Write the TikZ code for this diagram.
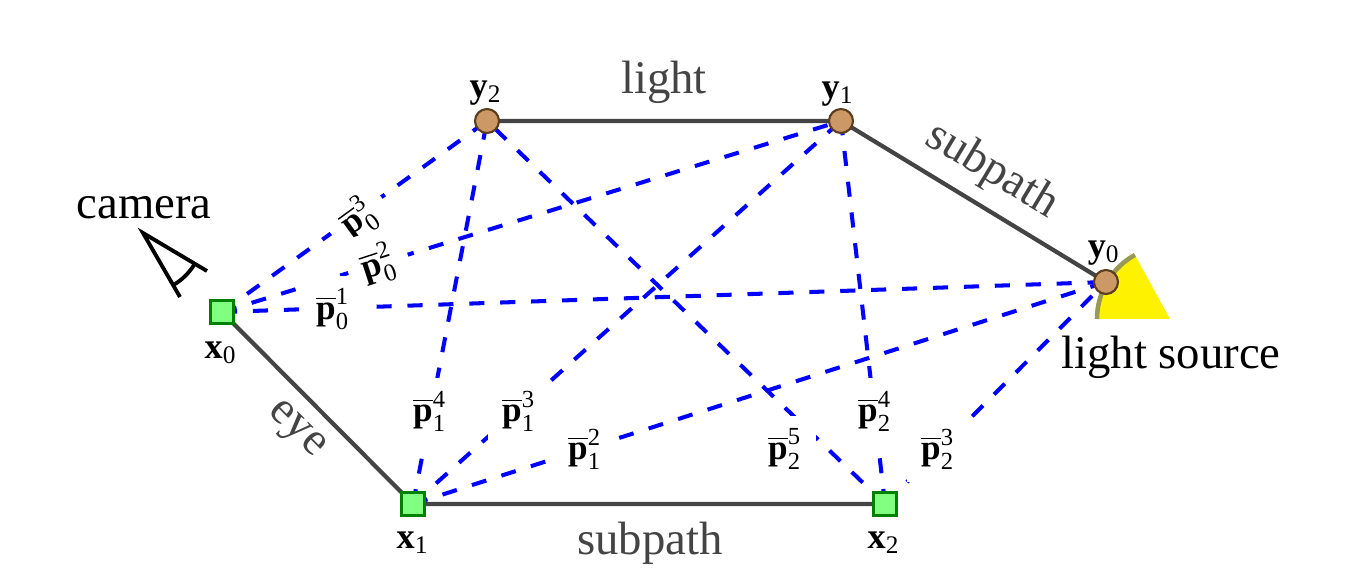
\documentclass[tikz,border=0pt]{standalone}
\usepackage{amsmath}
\usepackage{fontspec}
\setmainfont{Liberation Serif}
\usetikzlibrary{backgrounds}
\definecolor{EdgeGray}{RGB}{68,68,68}
\definecolor{EyeGreen}{RGB}{128,255,128}
\definecolor{EyeEdge}{RGB}{0,128,0}
\definecolor{LightTan}{RGB}{204,153,102}
\definecolor{LightEdge}{RGB}{90,60,30}
\definecolor{ArcOlive}{RGB}{153,153,85}
\newcommand{\pbar}[2]{$\overline{\text{\textbf{p}}}^{\text{#1}}_{\text{#2}}$}
\newcommand{\vtxname}[2]{\textbf{#1}$_{\text{#2}}$}
\begin{document}
\begin{tikzpicture}[
            eyenode/.style={rectangle, draw=EyeEdge, fill=EyeGreen, line width=0.6pt,
                        minimum size=0.23cm, inner sep=0pt},
            lightnode/.style={circle, draw=LightEdge, fill=LightTan, line width=0.6pt,
                        minimum size=0.24cm, inner sep=0pt},
            pathedge/.style={EdgeGray, line width=1.2pt},
            connect/.style={blue, line width=1.15pt, dash pattern=on 4.3pt off 4.5pt},
            plabel/.style={fill=white, inner sep=0pt, minimum width=0.62cm, minimum height=0.66cm,
                        font=\fontsize{10}{12}\selectfont},
            vname/.style={inner sep=0pt, font=\fontsize{10.3}{12}\selectfont},
            graytext/.style={text=EdgeGray, inner sep=0pt, font=\fontsize{13.3}{16}\selectfont},
            blacktext/.style={inner sep=0pt, font=\fontsize{13.3}{16}\selectfont}
          ]
          \useasboundingbox (0,0) rectangle (13.57,5.75);
          % light source
          \fill[yellow] (11.70,2.56) -- (10.97,2.56) arc (180:118.7:0.73) -- cycle;
          \draw[ArcOlive, line width=1.3pt] (10.97,2.56) arc (180:118.7:0.73);
          % camera
          \draw[line width=1.1pt] (2.07,3.04) -- (1.43,3.42) -- (1.80,2.78);
          \draw[line width=1.1pt] (1.94,3.10) arc (-32:-59:0.60);
          % vertices
          \node[eyenode] (x0) at (2.22,2.63) {};
          \node[eyenode] (x1) at (4.13,0.71) {};
          \node[eyenode] (x2) at (8.85,0.71) {};
          \node[lightnode] (y0) at (11.06,2.93) {};
          \node[lightnode] (y1) at (8.41,4.54) {};
          \node[lightnode] (y2) at (4.87,4.54) {};
          % connections
          \node[plabel, rotate=36] (p03) at (3.58,3.57) {\pbar{3}{0}};
          \node[plabel, rotate=18] (p02) at (3.78,3.11) {\pbar{2}{0}};
          \node[plabel] (p01) at (3.33,2.66) {\pbar{1}{0}};
          \node[plabel] (p14) at (4.30,1.64) {\pbar{4}{1}};
          \node[plabel] (p13) at (5.19,1.64) {\pbar{3}{1}};
          \node[plabel] (p12) at (5.85,1.26) {\pbar{2}{1}};
          \node[plabel] (p25) at (7.85,1.26) {\pbar{5}{2}};
          \node[plabel] (p24) at (8.75,1.64) {\pbar{4}{2}};
          \node[plabel] (p23) at (9.38,1.26) {\pbar{3}{2}};
          \begin{scope}[on background layer]
            \draw[connect] (x0.center) -- (y0.center);
            \draw[connect] (x0.center) -- (y1.center);
            \draw[connect] (x0.center) -- (y2.center);
            \draw[connect] (x1.center) -- (y0.center);
            \draw[connect] (x1.center) -- (y1.center);
            \draw[connect] (x1.center) -- (y2.center);
            \draw[connect] (x2.center) -- (y0.center);
            \draw[connect] (x2.center) -- (y1.center);
            \draw[connect] (x2.center) -- (y2.center);
            \draw[pathedge] (x0.center) -- (x1.center) -- (x2.center);
            \draw[pathedge] (y2.center) -- (y1.center) -- (y0.center);
          \end{scope}
          % names
          \node[vname] (nx0) at (2.21,2.22) {\vtxname{x}{0}};
          \node[vname] (nx1) at (4.13,0.32) {\vtxname{x}{1}};
          \node[vname] (nx2) at (8.84,0.32) {\vtxname{x}{2}};
          \node[vname] (ny0) at (11.04,3.22) {\vtxname{y}{0}};
          \node[vname] (ny1) at (8.38,4.81) {\vtxname{y}{1}};
          \node[vname] (ny2) at (4.86,4.82) {\vtxname{y}{2}};
          % texts
          \node[graytext] (tlight) at (6.64,4.93) {light};
          \node[graytext, rotate=-31] (tsub1) at (9.92,4.04) {subpath};
          \node[graytext, rotate=-45] (teye) at (2.95,1.44) {eye};
          \node[graytext] (tsub2) at (6.50,0.32) {subpath};
          \node[blacktext] (tcam) at (1.44,3.67) {camera};
          \node[blacktext] (tsrc) at (11.71,2.18) {light source};
        \end{tikzpicture}
\end{document}
